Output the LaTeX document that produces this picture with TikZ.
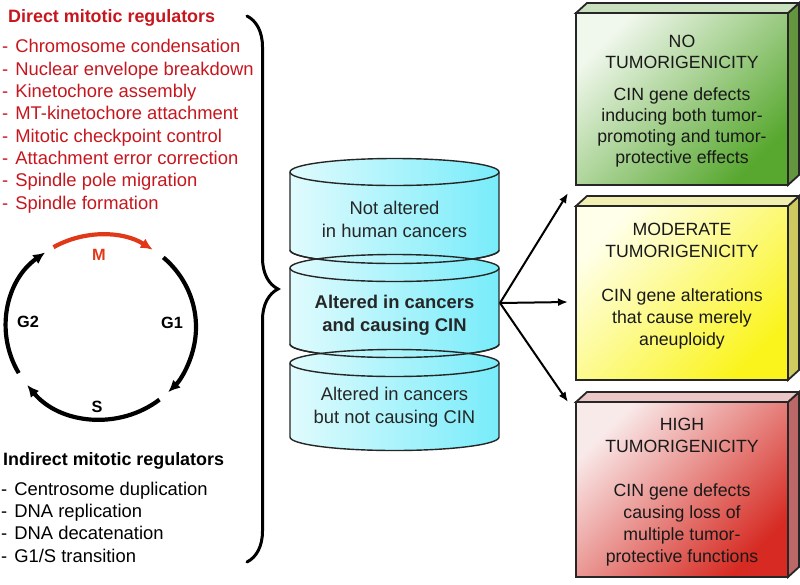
\documentclass[tikz,border=0pt]{standalone}
\usepackage{fontspec}
\setmainfont{Liberation Sans}
\usetikzlibrary{decorations.pathreplacing,arrows.meta}

\definecolor{dirred}{RGB}{198,22,30}
\definecolor{mred}{RGB}{224,56,24}
\definecolor{cylpale}{RGB}{224,251,253}
\definecolor{cylcyan}{RGB}{120,236,250}
\definecolor{greenlt}{RGB}{240,247,236}
\definecolor{greendk}{RGB}{88,168,48}
\definecolor{greenside}{RGB}{100,150,64}
\definecolor{greentop}{RGB}{200,224,190}
\definecolor{yellowlt}{RGB}{255,255,234}
\definecolor{yellowdk}{RGB}{250,244,28}
\definecolor{yellowside}{RGB}{206,202,96}
\definecolor{yellowtop}{RGB}{242,240,176}
\definecolor{redlt}{RGB}{249,234,234}
\definecolor{reddk}{RGB}{214,42,34}
\definecolor{redside}{RGB}{188,104,104}
\definecolor{redtop}{RGB}{234,198,198}

\newcommand{\listfont}{\fontsize{18.4}{22.3}\selectfont}
\newcommand{\boxfont}{\fontsize{17.7}{22}\selectfont}
\newcommand{\dashitem}{-\hspace{7pt}}

% one slice of the stack: #1 top rim y, #2 bottom rim y
\newcommand{\cylslice}[2]{%
  \shadedraw[cylline, left color=cylpale, right color=cylcyan]
    (290,#1) -- (290,#2) arc[start angle=180, end angle=360, x radius=104.5, y radius=13.5]
    -- (499,#1) arc[start angle=0, end angle=180, x radius=104.5, y radius=13.5] -- cycle;
  \draw[cylline] (290,#1) arc[start angle=180, end angle=360, x radius=104.5, y radius=13.5];
}

% 3D box: #1 top y, #2 bottom y, #3 colour prefix
\newcommand{\tumorbox}[3]{%
  \filldraw[boxline, fill=#3side] (788,#1) -- (799,#1+10) -- (799,#2+10) -- (788,#2) -- cycle;
  \filldraw[boxline, fill=#3top] (576,#1) -- (587,#1+10) -- (799,#1+10) -- (788,#1) -- cycle;
  \shadedraw[boxline, top color=#3lt, bottom color=#3dk, shading angle=45] (576,#1) rectangle (788,#2);
}

\begin{document}
\begin{tikzpicture}[x=1pt, y=1pt,
  head/.style={inner sep=0pt, anchor=base west, font=\bfseries\fontsize{17.9}{22}\selectfont},
  items/.style={inner sep=0pt, anchor=base west, align=left, font=\listfont},
  phase/.style={inner sep=0pt, anchor=base, font=\bfseries\fontsize{16.3}{18}\selectfont},
  phasearc/.style={line width=4.2pt, -{Latex[length=12pt, width=11pt]}},
  cylline/.style={draw=black!85, line width=1.4pt},
  cyltxt/.style={inner sep=0pt, anchor=base, align=center, font=\listfont, text=black!85},
  boxline/.style={draw=black!85, line width=1.8pt},
  boxtxt/.style={inner sep=0pt, anchor=base, align=center, font=\boxfont, text=black!90},
  fan/.style={line width=2pt, -{Latex[length=10pt, width=8pt]}}]
\useasboundingbox (0,0) rectangle (800,-584);

% direct mitotic regulators (multi-line nodes sit on their last baseline)
\node[head, text=dirred] (direct) at (8,-22) {Direct mitotic regulators};
\node[items, text=dirred] (directlist) at (2,-209) {\dashitem Chromosome condensation\\
  \dashitem Nuclear envelope breakdown\\
  \dashitem Kinetochore assembly\\
  \dashitem MT-kinetochore attachment\\
  \dashitem Mitotic checkpoint control\\
  \dashitem Attachment error correction\\
  \dashitem Spindle pole migration\\
  \dashitem Spindle formation};

% cell cycle
\begin{scope}[shift={(101,-327)}, yscale=0.97]
\draw[phasearc, mred] (120:95) arc[start angle=120, end angle=57, radius=95];
\draw[phasearc] (49:95) arc[start angle=49, end angle=-45, radius=95];
\draw[phasearc] (-52:95) arc[start angle=-52, end angle=-141, radius=95];
\draw[phasearc] (210:95) arc[start angle=210, end angle=126, radius=95];
\end{scope}
\node[phase, text=mred] (m) at (99,-260) {M};
\node[phase] (g1) at (172,-328) {G1};
\node[phase] (g2) at (28,-327) {G2};
\node[phase] (s) at (97,-412) {S};

% indirect mitotic regulators
\node[head] (indirect) at (3,-465) {Indirect mitotic regulators};
\node[items] (indirectlist) at (1,-562) {\dashitem Centrosome duplication\\
  \dashitem DNA replication\\
  \dashitem DNA decatenation\\
  \dashitem G1/S transition};

\draw[line width=3pt, line cap=round, decorate, decoration={brace, amplitude=31pt}] (247,-16) -- (247,-562);

% stack of CIN genes
\cylslice{-172}{-250}
\cylslice{-268}{-344}
\cylslice{-363}{-437}
\draw[cylline] (290,-250) arc[start angle=180, end angle=360, x radius=104.5, y radius=13.5];
\draw[cylline] (290,-344) arc[start angle=180, end angle=360, x radius=104.5, y radius=13.5];
\node[cyltxt] (notalt) at (394.5,-237) {Not altered\\in human cancers};
\node[cyltxt, font=\bfseries\listfont] (altcin) at (394.5,-331) {Altered in cancers\\and causing CIN};
\node[cyltxt] (altnocin) at (394.5,-423) {Altered in cancers\\but not causing CIN};

\coordinate (fork) at (500,-303);
\coordinate (tonone) at (568,-193);
\coordinate (tomod) at (568,-302);
\coordinate (tohigh) at (568,-402);
\draw[fan] (fork) -- (tonone);
\draw[fan] (fork) -- (tomod);
\draw[fan] (fork) -- (tohigh);

% outcome boxes
\tumorbox{-13}{-185}{green}
\tumorbox{-206}{-380}{yellow}
\tumorbox{-402}{-577}{red}
\node[boxtxt, font=\fontsize{17.7}{21}\selectfont] (nonode) at (682,-163) {NO\\TUMORIGENICITY\\[11pt]CIN gene defects\\inducing both tumor-\\promoting and tumor-\\protective effects};
\node[boxtxt] (modnode) at (682,-345) {MODERATE\\TUMORIGENICITY\\[22pt]CIN gene alterations\\that cause merely\\aneuploidy};
\node[boxtxt] (highnode) at (682,-562) {HIGH\\TUMORIGENICITY\\[22pt]CIN gene defects\\causing loss of\\multiple tumor-\\protective functions};
\end{tikzpicture}
\end{document}
